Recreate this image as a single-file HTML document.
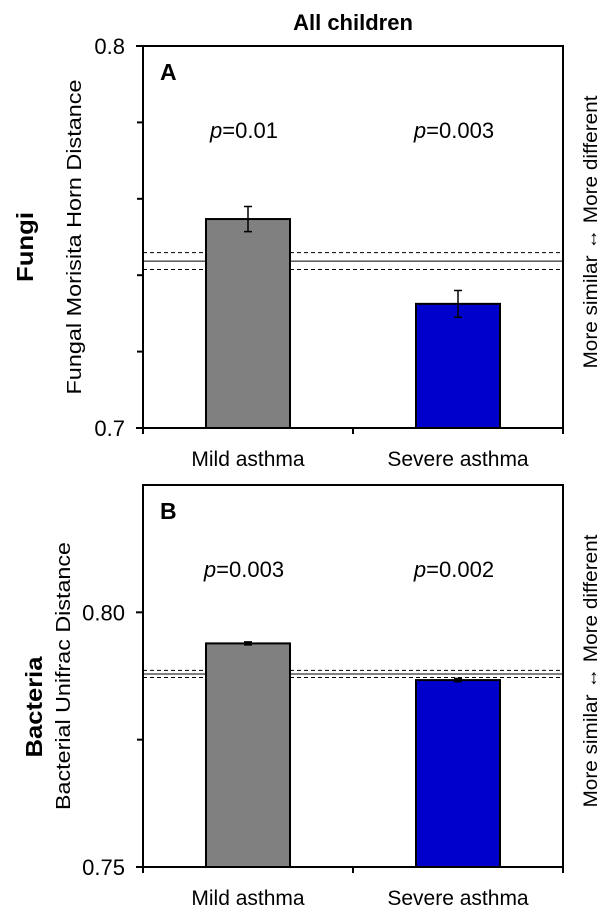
<!DOCTYPE html>
<html><head><meta charset="utf-8"><style>
body{margin:0;background:#fff;}
svg text{font-family:"Liberation Sans",Arial,sans-serif;}
</style></head><body>
<svg id="c" width="615" height="917" viewBox="0 0 615 917" xmlns="http://www.w3.org/2000/svg">
<text x="353" y="30" font-size="22" font-weight="bold" text-anchor="middle">All children</text>
</svg>
<script>
const categories = ["Mild asthma", "Severe asthma"];
const fungiValues = [0.7547, 0.7325];
const fungiErrors = [0.0033, 0.0035];
const fungiPvals = ["0.01", "0.003"];
const fungiRef = [0.7437, 0.0022];
const bactValues = [0.7939, 0.7867];
const bactErrors = [0.0003, 0.0003];
const bactPvals = ["0.003", "0.002"];
const bactRef = [0.7879, 0.0007];
const fungiTicks = ["0.7", "0.8"];
const bactTicks = ["0.75", "0.80"];

const NS = "http://www.w3.org/2000/svg";
const svg = document.getElementById('c');
function mk(tag, attrs, parent) {
  const e = document.createElementNS(NS, tag);
  for (const k in attrs) e.setAttribute(k, attrs[k]);
  (parent || svg).appendChild(e);
  return e;
}
const colors = ["#808080", "#0000CC"];

function panel(o) {
  const L = 143, R = 563, T = o.top, B = o.top + 382;
  const y = v => B - (v - o.min) / (o.max - o.min) * (B - T);
  const xc = i => L + (R - L) * (i + 0.5) / 2;
  const g = mk('g', {});
  
  
  let l = mk('line', {x1: L, x2: R, y1: y(o.ref[0]), y2: y(o.ref[0]), stroke: '#000', 'stroke-width': 1}, g);
  
  
  [1, -1].forEach(s => {
    const d = mk('line', {x1: L, x2: R, y1: y(o.ref[0] + s * o.ref[1]), y2: y(o.ref[0] + s * o.ref[1]), stroke: '#000', 'stroke-width': 1, 'stroke-dasharray': '4,3'}, g);
    
    
  });
  o.values.forEach((v, i) => {
    const r = mk('rect', {x: xc(i) - 42, y: y(v), width: 84, height: B - y(v), fill: colors[i], stroke: '#000', 'stroke-width': 2}, g);
    
    
    const e = o.errors[i];
    const eb = mk('path', {d: `M${xc(i)},${y(v + e)}V${y(v - e)}M${xc(i) - 4},${y(v + e)}H${xc(i) + 4}M${xc(i) - 4},${y(v - e)}H${xc(i) + 4}`, stroke: '#000', 'stroke-width': 1.5, fill: 'none'}, g);
    
    
    const t = mk('text', {x: xc(i) - 4, y: T + 92, 'font-size': 22, 'text-anchor': 'middle'}, g);
    t.innerHTML = '<tspan font-style="italic">p</tspan>=' + o.pvals[i];
    
    
    const c = mk('text', {x: xc(i), y: B + 38, 'font-size': 21, 'text-anchor': 'middle'}, g);
    c.textContent = categories[i];
    
    
  });
  const box = mk('rect', {x: L, y: T, width: R - L, height: B - T, fill: 'none', stroke: '#000', 'stroke-width': 2}, g);
  
  
  o.minor.forEach(v => { mk('line', {x1: L - 6, x2: L, y1: y(v), y2: y(v), stroke: '#000', 'stroke-width': 2}, g); });
  o.tickVals.forEach((v, i) => {
    mk('line', {x1: L - 7, x2: L, y1: y(v), y2: y(v), stroke: '#000', 'stroke-width': 2}, g);
    const t = mk('text', {x: L - 18, y: y(v) + 8, 'font-size': 22, 'text-anchor': 'end'}, g);
    t.textContent = o.ticks[i];
    
    
  });
  mk('line', {x1: (L + R) / 2, x2: (L + R) / 2, y1: B, y2: B + 6, stroke: '#000', 'stroke-width': 2}, g);
  mk('line', {x1: L, x2: L, y1: B, y2: B + 6, stroke: '#000', 'stroke-width': 2}, g);
  mk('line', {x1: R, x2: R, y1: B, y2: B + 6, stroke: '#000', 'stroke-width': 2}, g);
  const lt = mk('text', {x: L + 17, y: T + 34, 'font-size': 23, 'font-weight': 'bold'}, g);
  lt.textContent = o.letter;
  
  
  const yt = mk('text', {transform: `translate(${o.ytX},${o.ytC}) rotate(-90)`, 'font-size': 20, 'text-anchor': 'middle', textLength: o.ytLen, lengthAdjust: 'spacingAndGlyphs'}, g);
  yt.textContent = o.ytitle;
  
  
  const gt = mk('text', {transform: `translate(${o.gX},${o.gY}) rotate(-90)`, 'font-size': 23, 'font-weight': 'bold', 'text-anchor': 'middle', textLength: o.gLen, lengthAdjust: 'spacingAndGlyphs'}, g);
  gt.textContent = o.group;
  
  
  const rt = mk('text', {transform: `translate(597,${(T + B) / 2 - 5}) rotate(-90)`, 'font-size': 19, 'text-anchor': 'middle', textLength: 273, lengthAdjust: 'spacingAndGlyphs'}, g);
  rt.textContent = 'More similar \u2194 More different';
  
  
}
panel({name: 'fungi', top: 46, min: 0.7, max: 0.8, values: fungiValues, errors: fungiErrors, pvals: fungiPvals, ref: fungiRef,
  ticks: fungiTicks, tickVals: [0.7, 0.8], minor: [0.72, 0.74, 0.76, 0.78], letter: 'A', ytitle: 'Fungal Morisita Horn Distance', ytX: 81, ytC: 237, ytLen: 315,
  group: 'Fungi', gX: 33, gY: 247, gLen: 70});
panel({name: 'bacteria', top: 485, min: 0.75, max: 0.825, values: bactValues, errors: bactErrors, pvals: bactPvals, ref: bactRef,
  ticks: bactTicks, tickVals: [0.75, 0.80], minor: [0.775], letter: 'B', ytitle: 'Bacterial Unifrac Distance', ytX: 70, ytC: 676, ytLen: 268,
  group: 'Bacteria', gX: 42, gY: 707, gLen: 101});
</script>
</body></html>
